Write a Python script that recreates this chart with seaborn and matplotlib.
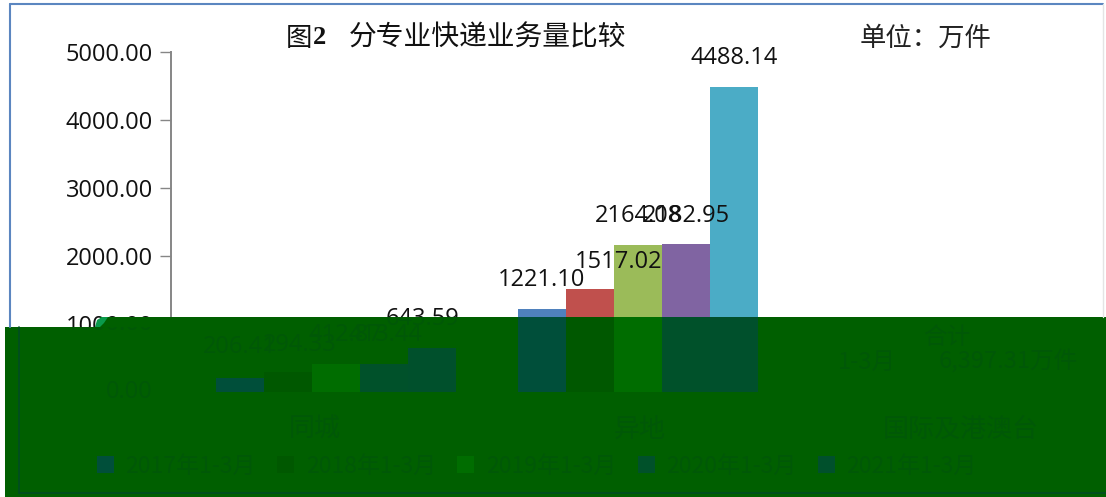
import numpy as np
import pandas as pd
import matplotlib
matplotlib.use("Agg")
import matplotlib.pyplot as plt
from matplotlib.patches import Polygon
from matplotlib.lines import Line2D
from matplotlib.transforms import Bbox, TransformedBbox
import seaborn as sns

categories = ["同城", "异地", "国际及港澳台"]
periods = ["2017年1-3月", "2018年1-3月", "2019年1-3月", "2020年1-3月", "2021年1-3月"]
same_city = [206.41, 294.33, 412.87, 413.44, 643.59]
other_city = [1221.10, 1517.02, 2164.08, 2182.95, 4488.14]
international = [np.nan, np.nan, np.nan, np.nan, np.nan]
y_ticks = [0, 1000, 2000, 3000, 4000, 5000]

colors = ["#4f81bd", "#c0504d", "#9bbb59", "#8064a2", "#4bacc6"]
tinted = ["#004f3a", "#005800", "#006d00", "#00512a", "#00502c"]
OVER = "#005f00"
FAINT = "#005807"

W, H = 1106, 497
sns.set_theme(style="white")
plt.rcParams["font.family"] = ["Open Sans", "Noto Sans CJK SC", "DejaVu Sans"]
cjk = ["Noto Sans CJK SC", "DejaVu Sans"]

df = pd.DataFrame({
    "cat": np.repeat(categories, len(periods)),
    "period": periods * len(categories),
    "value": same_city + other_city + international,
})

def fx(x): return x / W
def fy(y): return 1 - y / H

fig = plt.figure(figsize=(W / 100, H / 100), dpi=100)
fig.patch.set_facecolor("white")
ax = fig.add_axes([fx(171), fy(392), (1095 - 171) / W, (392 - 52) / H])
ax.patch.set_alpha(0)

bar_style = dict(width=0.795, gap=0, saturation=1, errorbar=None, linewidth=0, edgecolor="none")
sns.barplot(data=df, x="cat", y="value", hue="period", order=categories, hue_order=periods,
            palette=colors, legend=False, ax=ax, **bar_style)
n_first = len(ax.containers)
sns.barplot(data=df, x="cat", y="value", hue="period", order=categories, hue_order=periods,
            palette=tinted, legend=True, ax=ax, **bar_style)

ax.set_xlim((171 - 336) / 302, (1095 - 336) / 302)
ax.set_ylim(0, 5000)
ax.set_xlabel("")
ax.set_ylabel("")
ax.set_yticks(y_ticks)
ax.set_yticklabels([f"{v:.2f}" for v in y_ticks], fontsize=17, color="#111111")
ax.tick_params(axis="y", length=8, width=1, color="#868686", pad=5, left=True)
ax.set_xticks([-0.07, 1.007, 2.07])
ax.set_xticklabels(categories, fontsize=18.7, color=FAINT, family=cjk)
ax.tick_params(axis="x", length=0, pad=17)
ax.xaxis.set_zorder(6)
for s in ["top", "right", "bottom"]:
    ax.spines[s].set_visible(False)
ax.spines["left"].set_color("#868686")
ax.spines["left"].set_linewidth(1.4)

# outer chart frame
fig.add_artist(Line2D([fx(10), fx(10)], [fy(4), fy(327)], color="#5b86c0", lw=1.5))
fig.add_artist(Line2D([fx(10), fx(1103)], [fy(4), fy(4)], color="#5b86c0", lw=1.5))
fig.add_artist(Line2D([fx(1103), fx(1103)], [fy(4), fy(317)], color="#e4e4e4", lw=1))

# dark band over the lower part
band_pts = [(5, 327), (100, 327), (100, 317), (W, 317), (W, H), (5, H)]
band = Polygon([(fx(x), fy(y)) for x, y in band_pts], closed=True, transform=fig.transFigure,
               facecolor=OVER, edgecolor="none", zorder=4, clip_on=False)
ax.add_patch(band)

def clip_box(top):
    return TransformedBbox(Bbox([[fx(5), 0], [1, fy(top)]]), fig.transFigure)

blob = Polygon([(fx(95), fy(327)), (fx(97), fy(320)), (fx(102), fy(317)), (fx(108), fy(317)),
                (fx(104), fy(323)), (fx(100), fy(327))], closed=True, transform=fig.transFigure,
               facecolor="#0a9a4c", edgecolor="none", zorder=5, clip_on=False)
ax.add_patch(blob)

for line in ([(19, 327), (19, 493)], [(19, 493), (W, 493)]):
    ax.add_line(Line2D([fx(p[0]) for p in line], [fy(p[1]) for p in line], transform=fig.transFigure,
                       color="#004c22", lw=1.2, zorder=5, clip_on=False))

# tinted copies of the bars show only inside the band
for cont in ax.containers[n_first:]:
    for bar in cont:
        bar.set_zorder(5)
        bar.set_clip_path(band)
for cont in ax.containers[:n_first]:
    for bar in cont:
        bar.set_zorder(2)

# value labels: dark above the band, faint inside it
offsets = [[(0, 19), (12, 15), (9, 17), (1, 17), (-10, 17)],
           [(0, 17), (29, 15), (1, 17), (0, 16), (0, 17)]]
for g, cat_vals in enumerate([same_city, other_city]):
    for i, v in enumerate(cat_vals):
        bar = ax.containers[i][g]
        x = bar.get_x() + bar.get_width() / 2
        dx, dy = offsets[g][i]
        ax.annotate(f"{v:.2f}", (x, v), xytext=(dx, dy), textcoords="offset pixels",
                    ha="center", va="bottom", fontsize=17, color="#111111", zorder=3,
                    annotation_clip=False)
        t = ax.annotate(f"{v:.2f}", (x, v), xytext=(dx, dy), textcoords="offset pixels",
                        ha="center", va="bottom", fontsize=17, color=FAINT, zorder=6,
                        annotation_clip=False)
        t.set_clip_on(True)
        t.set_clip_box(clip_box(317))

# faint copies of the lower y tick labels
for v in [0, 1000]:
    t = ax.annotate(f"{v:.2f}", (0, v), xycoords=ax.get_yaxis_transform(), xytext=(-18, 0),
                    textcoords="offset pixels", ha="right", va="center", fontsize=17,
                    color=FAINT, zorder=6, annotation_clip=False)
    t.set_clip_on(True)
    t.set_clip_box(clip_box(327))

# legend
sns.move_legend(ax, "center left", bbox_to_anchor=(fx(97), fy(466)), bbox_transform=fig.transFigure,
                ncol=5, frameon=False, title=None, labelcolor=FAINT,
                handlelength=0.74, handleheight=0.7, handletextpad=0.5, columnspacing=0.92,
                borderpad=0, borderaxespad=0, prop={"family": cjk, "size": 16.6})
ax.get_legend().set_zorder(7)

# text inside the band at the right
fig_texts = [("合计", 947, 338), ("1-3月", 867, 362), ("6,397.31万件", 1008, 362)]
for s, x, y in fig_texts:
    ax.text(fx(x), fy(y), s, transform=fig.transFigure, ha="center", va="center", fontsize=17,
            color=FAINT, family=cjk, zorder=7, clip_on=False)

# title and unit
ax.text(fx(286), fy(38), "图", transform=fig.transFigure, ha="left", va="center", fontsize=19,
        color="#111111", family=cjk, zorder=7, clip_on=False)
ax.text(fx(313), fy(38), "2", transform=fig.transFigure, ha="left", va="center", fontsize=19,
        color="#111111", family="Liberation Serif", weight="bold", zorder=7, clip_on=False)
ax.text(fx(349), fy(38), "分专业快递业务量比较", transform=fig.transFigure, ha="left", va="center",
        fontsize=20, color="#111111", family=cjk, zorder=7, clip_on=False)
ax.text(fx(860), fy(38), "单位：万件", transform=fig.transFigure, ha="left", va="center",
        fontsize=19, color="#222222", family=cjk, zorder=7, clip_on=False)

fig.savefig("out.png", dpi=100)
